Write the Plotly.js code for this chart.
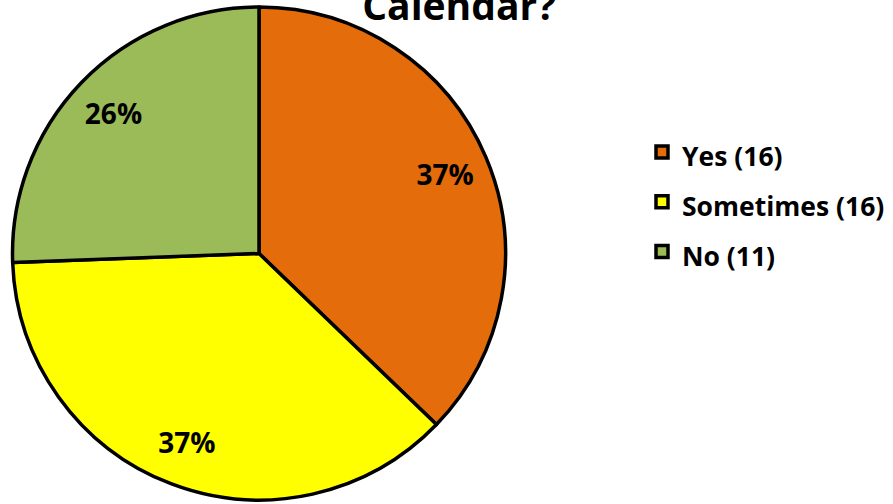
<!DOCTYPE html>
<html>
<head>
<meta charset="utf-8">
<script src="https://cdn.plot.ly/plotly-3.0.1.min.js"></script>
<style>html,body{margin:0;padding:0;background:#fff;}#chart{width:893px;height:504px;}</style>
</head>
<body>
<div id="chart"></div>
<script>
const categories = ['Yes (16)', 'Sometimes (16)', 'No (11)'];
const counts = [16, 16, 11];
const colors = ['#E46C0A', '#FFFF00', '#9BBB59'];
const titleText = 'Calendar?';

const W = 893, H = 504;
const dom = {x: [12 / W, 506 / W], y: [4 / H, 497 / H]};

const pieMain = {
  type: 'pie',
  labels: categories.map(c => '<span style="font-size:26.5px">' + c + '</span>'),
  values: counts,
  sort: false,
  direction: 'clockwise',
  rotation: 0,
  domain: dom,
  marker: {colors: colors, line: {color: '#000', width: 3.5}},
  textinfo: 'none',
  hoverinfo: 'label+value+percent'
};

const pieText = {
  type: 'pie',
  labels: categories,
  values: counts,
  sort: false,
  direction: 'clockwise',
  rotation: 0,
  hole: 0.64,
  domain: dom,
  marker: {colors: ['rgba(0,0,0,0)', 'rgba(0,0,0,0)', 'rgba(0,0,0,0)'], line: {width: 0}},
  texttemplate: '%{percent:.0%}',
  textposition: 'inside',
  insidetextorientation: 'horizontal',
  textfont: {family: 'Open Sans', size: 28, color: '#000', weight: 'bold'},
  showlegend: false,
  hoverinfo: 'skip'
};

const layout = {
  width: W, height: H,
  margin: {l: 0, r: 0, t: 0, b: 0},
  paper_bgcolor: '#fff',
  showlegend: true,
  title: {
    text: '<b>' + titleText + '</b>',
    font: {family: 'Open Sans', size: 39, color: '#000'},
    xref: 'paper', x: 459 / W, xanchor: 'center',
    yref: 'container', y: 1 - 20 / H, yanchor: 'bottom'
  },
  legend: {
    x: 642 / W, xanchor: 'left',
    y: 1 - 202 / H, yanchor: 'middle',
    font: {family: 'Open Sans', size: 36, color: '#000', weight: 'bold'},
    bgcolor: 'rgba(0,0,0,0)',
    itemclick: false
  }
};

Plotly.newPlot('chart', [pieMain, pieText], layout, {displayModeBar: false, staticPlot: true});
</script>
</body>
</html>
